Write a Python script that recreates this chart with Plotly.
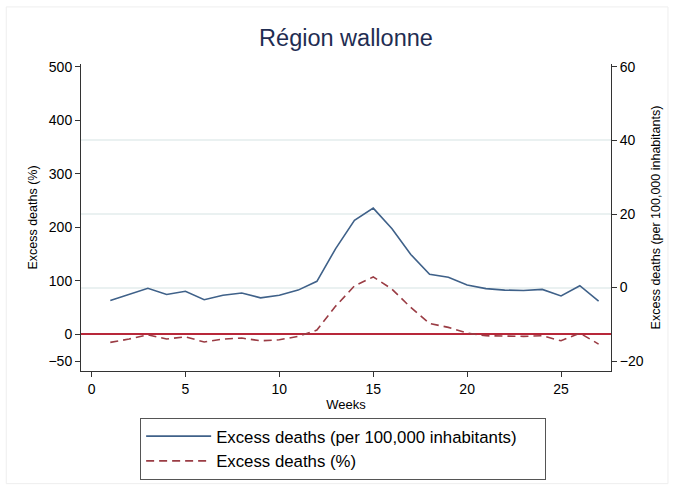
import plotly.graph_objects as go

# weekly values
weeks = list(range(1, 28))
excess_per_100k = [-3.5, -1.9, -0.2, -1.9, -1.0, -3.3, -2.1, -1.5, -2.8, -2.1,
                   -0.7, 1.7, 10.6, 18.3, 21.6, 16.0, 9.0, 3.6, 2.8, 0.7,
                   -0.3, -0.7, -0.8, -0.5, -2.3, 0.5, -3.7]
excess_pct = [-15.1, -8.9, -0.9, -8.9, -4.7, -14.5, -8.9, -7.1, -12.1, -10.3,
              -3.9, 7.8, 52.6, 90.4, 107.2, 84.3, 50.1, 20.3, 12.9, 2.2,
              -2.8, -3.9, -3.9, -2.8, -12.1, 2.2, -18.3]

x_ticks = [0, 5, 10, 15, 20, 25]
left_ticks = [-50, 0, 100, 200, 300, 400, 500]
right_ticks = [-20, 0, 20, 40, 60]
right_grid = [0, 20, 40]

FONT = 'Liberation Sans, Arial, Helvetica, sans-serif'
AXIS_COLOR = '#333333'
LEFT_RANGE = [-68.6, 505]
RIGHT_RANGE = [-22.7, 60.8]
PAD = '\u00a0' * 5  # extra room on the right of the legend box

fig = go.Figure()

fig.add_trace(go.Scatter(
    x=weeks, y=excess_per_100k,
    name='Excess deaths (per 100,000 inhabitants)' + PAD,
    mode='lines',
    line=dict(color='#3f6189', width=1.6),
    yaxis='y2'
))
fig.add_trace(go.Scatter(
    x=weeks, y=excess_pct,
    name='Excess deaths (%)',
    mode='lines',
    line=dict(color='#9a3c44', width=1.6, dash='8px,5px'),
    yaxis='y'
))

axis_common = dict(
    showline=True, linecolor=AXIS_COLOR, linewidth=1,
    ticks='outside', ticklen=5, tickcolor=AXIS_COLOR,
    tickfont=dict(size=14, color='black'),
    mirror=False,
)

fig.update_layout(
    width=674, height=492,
    paper_bgcolor='white', plot_bgcolor='white',
    font=dict(family=FONT, color='black'),
    margin=dict(l=81, r=63, t=64, b=115),
    title=dict(text='Région wallonne', x=0.5, xref='paper', xanchor='center',
               y=1 - 38 / 492, yanchor='middle',
               font=dict(size=23.5, color='#1f2d52')),
    xaxis=dict(range=[-0.56, 27.66], tickvals=x_ticks, showgrid=False,
               zeroline=False,
               title=dict(text='Weeks', font=dict(size=13), standoff=4),
               **axis_common),
    yaxis=dict(range=LEFT_RANGE, tickvals=left_ticks, showgrid=False,
               zeroline=True, zerolinecolor='#b8283a', zerolinewidth=1.6,
               title=dict(text='Excess deaths (%)', font=dict(size=12.5), standoff=8),
               **axis_common),
    yaxis2=dict(range=RIGHT_RANGE, tickvals=right_ticks, overlaying='y',
                side='right', showgrid=False, zeroline=False,
                title=dict(text='Excess deaths (per 100,000 inhabitants)',
                           font=dict(size=12.5), standoff=8),
                **axis_common),
    yaxis3=dict(range=RIGHT_RANGE, tickvals=right_grid, overlaying='y',
                side='right', showgrid=True, gridcolor='#eaf1f1', gridwidth=1.5,
                showticklabels=False, ticks='', zeroline=False, showline=False),
    legend=dict(
        orientation='v', x=0.4946, xanchor='center', y=-0.152, yanchor='top',
        bordercolor='#555555', borderwidth=1, bgcolor='white',
        font=dict(size=16.8, color='black'), itemwidth=65,
        tracegroupgap=0,
    ),
    showlegend=True,
    shapes=[dict(type='rect', xref='paper', yref='paper',
                 x0=-0.141, x1=1.1075, y0=-0.367, y1=1.186,
                 line=dict(color='#eeeeee', width=1), layer='below')],
)

# invisible trace so the grid axis is drawn
fig.add_trace(go.Scatter(x=[None], y=[None], yaxis='y3', showlegend=False,
                         hoverinfo='skip'))

fig.write_html('out.html', config={'displayModeBar': False},
               post_script="document.body.style.margin='0';")
